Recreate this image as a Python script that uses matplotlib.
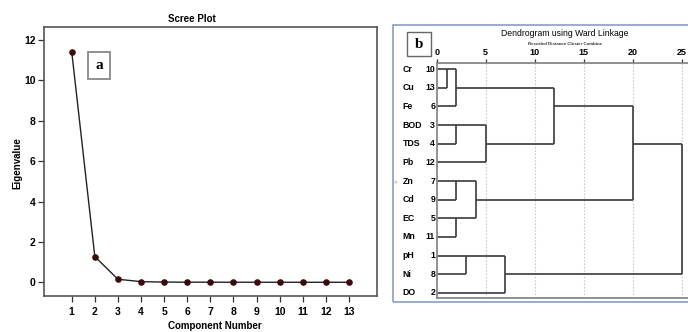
import math
import matplotlib
matplotlib.use("Agg")
import matplotlib.pyplot as plt
from matplotlib.patches import Rectangle

plt.rcParams['font.family'] = ['Liberation Sans', 'DejaVu Sans']

# ---------------- data ----------------
components = [1, 2, 3, 4, 5, 6, 7, 8, 9, 10, 11, 12, 13]
eigenvalues = [11.42, 1.27, 0.15, 0.03, 0.01, 0.005, 0.003, 0.002, 0.001, 0.001, 0.0, 0.0, 0.0]

variables = ['Cr', 'Cu', 'Fe', 'BOD', 'TDS', 'Pb', 'Zn', 'Cd', 'EC', 'Mn', 'pH', 'Ni', 'DO']
case_numbers = [10, 13, 6, 3, 4, 12, 7, 9, 5, 11, 1, 8, 2]
# merges: (member_a, member_b, rescaled distance); members 0..12 are rows, 13+ are merged clusters
merge_a = [0, 13, 3, 15, 6, 8, 17, 10, 20, 14, 22, 23]
merge_b = [1, 2, 4, 5, 7, 9, 18, 11, 12, 16, 19, 21]
merge_dist = [1, 2, 2, 5, 2, 2, 4, 3, 7, 12, 20, 25]
dist_ticks = [0, 5, 10, 15, 20, 25]

W, H = 688, 332
fig = plt.figure(figsize=(W / 100, H / 100), dpi=100)

def fx(px):
    return px / W

def fy(py):
    return 1 - py / H

# ---------------- Scree plot ----------------
ax1 = fig.add_axes([fx(44), fy(296), fx(376.7 - 44), (296 - 26.7) / H])
ax1.plot(components, eigenvalues, color='#222222', lw=1.0, zorder=2)
ax1.scatter(components, eigenvalues, s=14, color='#3a0a0a', zorder=3)
ax1.set_xlim(-0.2, 14.2)
ax1.set_ylim(-0.68, 12.66)
ax1.set_xticks(components)
ax1.set_yticks([0, 2, 4, 6, 8, 10, 12])
for sp in ax1.spines.values():
    sp.set_color('#555555')
    sp.set_linewidth(1.2)
ax1.tick_params(direction='out', length=4, width=0.9, color='#333333',
                labelsize=7.5, pad=2)
ax1.tick_params(axis='x', pad=4)
for lab in ax1.get_xticklabels() + ax1.get_yticklabels():
    lab.set_fontweight('bold')
fig.text(fx(215), fy(326), 'Component Number', ha='center', va='center',
         fontsize=7, fontweight='bold')
fig.text(fx(17), fy(163), 'Eigenvalue', ha='center', va='center',
         rotation=90, fontsize=7, fontweight='bold')
fig.text(fx(192), fy(19), 'Scree Plot', ha='center', va='center',
         fontsize=7, fontweight='bold')

# label box "a"
fig.patches.append(Rectangle((fx(88), fy(79)), fx(22), (79 - 52) / H,
                             transform=fig.transFigure, fill=False,
                             edgecolor='#888888', lw=1.3))
fig.text(fx(99), fy(65.5), 'a', ha='center', va='center', fontsize=11,
         fontweight='bold', family='Liberation Serif')

# ---------------- Dendrogram ----------------
# outer blue frame
fig.patches.append(Rectangle((fx(393.3), fy(302)), fx(320), (302 - 25) / H,
                             transform=fig.transFigure, fill=False,
                             edgecolor='#8ea6cf', lw=1.3, clip_on=False))

ax2 = fig.add_axes([fx(436.7), fy(298), 1 - fx(436.7), (298 - 62.7) / H])
n = len(variables)
ax2.set_xlim(0, 25.64)
ax2.set_ylim(12.27, -0.34)

pos = {i: i for i in range(n)}
height = {i: 0 for i in range(n)}
line_kw = dict(color='#3a3a3a', lw=1.2, solid_capstyle='butt')
for k, (a, b, d) in enumerate(zip(merge_a, merge_b, merge_dist)):
    cid = n + k
    ax2.plot([height[a], d], [pos[a], pos[a]], **line_kw)
    ax2.plot([height[b], d], [pos[b], pos[b]], **line_kw)
    ax2.plot([d, d], [pos[a], pos[b]], **line_kw)
    pos[cid] = math.floor((pos[a] + pos[b]) / 2)
    height[cid] = d

for t in dist_ticks[1:]:
    ax2.axvline(t, color='#c8c8c8', lw=0.8, ls=(0, (1.5, 1.5)), zorder=0)

ax2.xaxis.tick_top()
ax2.set_xticks(dist_ticks)
ax2.tick_params(axis='x', direction='out', length=3, width=0.9, color='#333333',
                labelsize=6.5, pad=1)
for lab in ax2.get_xticklabels():
    lab.set_fontweight('bold')
ax2.set_yticks([])
ax2.spines['right'].set_visible(False)
for s in ['top', 'left', 'bottom']:
    ax2.spines[s].set_color('#888888')
    ax2.spines[s].set_linewidth(1.3)

for i, (v, c) in enumerate(zip(variables, case_numbers)):
    ax2.annotate(v, xy=(0, i), xycoords=('axes fraction', 'data'),
                 xytext=(402.7 - 436.7, 0), textcoords='offset pixels',
                 ha='left', va='center', fontsize=6.3, fontweight='bold')
    ax2.annotate(str(c), xy=(0, i), xycoords=('axes fraction', 'data'),
                 xytext=(-1.5, 0), textcoords='offset pixels',
                 ha='right', va='center', fontsize=6.3, fontweight='bold')
fig.text(fx(395), fy(182), '>', ha='center', va='center', fontsize=4.5,
         color='#777777')

fig.text(fx(565), fy(34), 'Dendrogram using Ward Linkage', ha='center',
         va='center', fontsize=6.2)
fig.text(fx(565), fy(44), 'Rescaled Distance Cluster Combine', ha='center',
         va='center', fontsize=3.2, fontweight='bold', color='#333333')

# label box "b"
fig.patches.append(Rectangle((fx(407), fy(56)), fx(23.5), (56 - 32) / H,
                             transform=fig.transFigure, fill=False,
                             edgecolor='#666666', lw=1.0))
fig.text(fx(418.7), fy(44), 'b', ha='center', va='center', fontsize=11,
         fontweight='bold', family='Liberation Serif')

fig.savefig('out.png', dpi=100)
